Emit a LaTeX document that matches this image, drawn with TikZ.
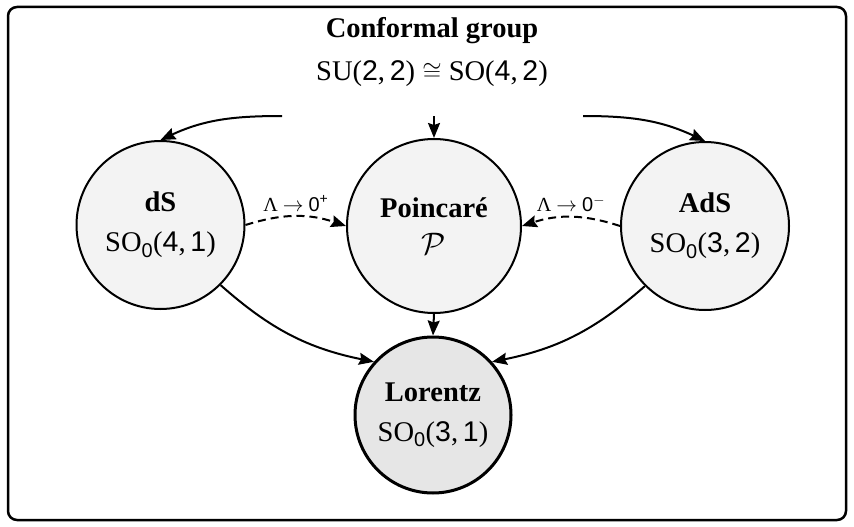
\documentclass[tikz,border=0pt]{standalone}
\usepackage{amsmath}
\usepackage{fontspec}
\setmainfont{Liberation Serif}
\newfontfamily\sff{Liberation Sans}
\usetikzlibrary{arrows.meta}
\newcommand\dg[1]{{\sff #1}}
\newcommand\zsub{\ensuremath{{}_{\text{\sff 0}}}}
\definecolor{cfill}{HTML}{F3F3F3}
\definecolor{lfill}{HTML}{E6E6E6}
\begin{document}
\begin{tikzpicture}[x=1pt,y=-1pt,
  every node/.style={font=\fontsize{28.5}{40}\selectfont},
  grp/.style={circle,draw,line width=2pt,fill=cfill,align=center,inner sep=0pt},
  con/.style={line width=2pt,-{Stealth[length=15pt,width=12pt,inset=2pt]}},
  lim/.style={con,dash pattern=on 8pt off 5pt},
  lbl/.style={font=\fontsize{20}{24}\selectfont,above,inner sep=4pt},
  head/.style={align=center,inner sep=1pt,font=\fontsize{28.5}{43}\selectfont}]
\useasboundingbox (0,0) rectangle (854,527);
\draw[line width=2.5pt,rounded corners=9pt] (8,7) rectangle (846,520);
\node[head] (title) at (432,52) {{\bfseries Conformal group}\\SU(\dg{2},\,\dg{2}) $\cong$ SO(\dg{4},\,\dg{2})};
\coordinate (cl) at (282,116);
\coordinate (cm) at (434,116);
\coordinate (cr) at (583,116);
\node[grp,minimum size=168pt] (dS) at (160.5,225) {{\bfseries dS}\\SO\zsub(\dg{4},\,\dg{1})};
\node[grp,minimum size=174pt] (P) at (434,226) {{\bfseries Poincaré}\\[-3pt]\scalebox{1.25}{$\mathcal{P}$}};
\node[grp,minimum size=168pt] (AdS) at (705,226) {{\bfseries AdS}\\SO\zsub(\dg{3},\,\dg{2})};
\node[grp,minimum size=156pt,fill=lfill,line width=3pt] (L) at (433,415) {{\bfseries Lorentz}\\SO\zsub(\dg{3},\,\dg{1})};
\draw[con] (cm) -- (P.north);
\draw[con] (cl) to[out=180,in=25] (dS.north);
\draw[con] (cr) to[out=0,in=155] (AdS.north);
\draw[lim] (dS.east) to[bend left=18] node[lbl]{Λ $\to$ \dg{0}$^{\text{\sff +}}$} (P.west);
\draw[lim] (AdS.west) to[bend right=18] node[lbl]{Λ $\to$ \dg{0}$^{-}$} (P.east);
\draw[con] (dS.-45) to[bend right=15] (L.138);
\draw[con] (AdS.-135) to[bend left=15] (L.42);
\draw[con] (P.south) -- (L.north);
\end{tikzpicture}
\end{document}
